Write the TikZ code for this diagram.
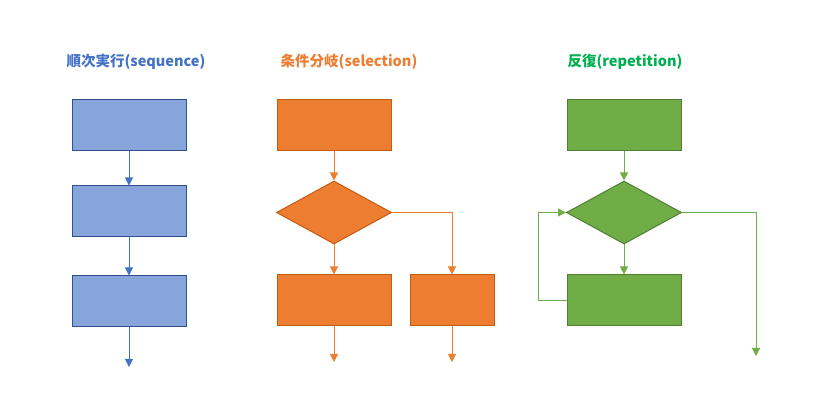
\documentclass[tikz,border=0pt]{standalone}
\usepackage{fontspec}
\newfontfamily\jpfont{Noto Sans CJK JP}
\usetikzlibrary{arrows.meta,shapes.geometric}

\definecolor{seqline}{HTML}{4472C4}
\definecolor{seqfill}{HTML}{87A5DA}
\definecolor{seqdraw}{HTML}{2F528F}
\definecolor{selline}{HTML}{ED7D31}
\definecolor{selfill}{HTML}{ED7D31}
\definecolor{seldraw}{HTML}{C55A11}
\definecolor{repline}{HTML}{70AD47}
\definecolor{repfill}{HTML}{70AD47}
\definecolor{repdraw}{HTML}{507E32}
\definecolor{reptitle}{HTML}{00B050}

\tikzset{
  title/.style={font=\jpfont\bfseries\fontsize{14.5}{16}\selectfont, inner sep=0pt},
  procbox/.style={draw, line width=1pt, minimum width=114pt, minimum height=51pt, inner sep=0pt},
  smallbox/.style={procbox, minimum width=84pt},
  decision/.style={diamond, draw, line width=1pt, minimum width=115pt, minimum height=63pt, inner sep=0pt, aspect=1.8},
  flow/.style={line width=1pt, -{Triangle[width=8pt,length=8pt]}},
}

\begin{document}
\begin{tikzpicture}[x=1pt,y=-1pt]
      \useasboundingbox (0,0) rectangle (815,406);

      % titles
      \node [title, text=seqline] (tseq) at (136, 62) {順次実行(sequence)};
      \node [title, text=selline] (tsel) at (349, 62) {条件分岐(selection)};
      \node [title, text=reptitle] (trep) at (625, 62) {反復(repetition)};

      % sequence
      \node [procbox, fill=seqfill, draw=seqdraw] (s1) at (129, 125.5) {};
      \node [procbox, fill=seqfill, draw=seqdraw] (s2) at (129, 211.5) {};
      \node [procbox, fill=seqfill, draw=seqdraw] (s3) at (129, 301.5) {};
      \coordinate (send) at (129, 367);

      \draw [flow, seqline] (s1) -- (s2);
      \draw [flow, seqline] (s2) -- (s3);
      \draw [flow, seqline] (s3) -- (send);

      % selection
      \node [procbox, fill=selfill, draw=seldraw] (o1) at (334, 125.5) {};
      \node [decision, fill=selfill, draw=seldraw] (od) at (334, 212.5) {};
      \node [procbox, fill=selfill, draw=seldraw] (o2) at (334, 300.5) {};
      \node [smallbox, fill=selfill, draw=seldraw] (o3) at (452, 300.5) {};
      \coordinate (oend1) at (334, 362);
      \coordinate (oend2) at (452, 362);

      \draw [flow, selline] (o1) -- (od);
      \draw [flow, selline] (od) -- (o2);
      \draw [flow, selline] (od.east) -| (o3.north);
      \draw [flow, selline] (o2) -- (oend1);
      \draw [flow, selline] (o3) -- (oend2);

      % repetition
      \node [procbox, fill=repfill, draw=repdraw] (r1) at (624, 125.5) {};
      \node [decision, fill=repfill, draw=repdraw] (rd) at (624, 212.5) {};
      \node [procbox, fill=repfill, draw=repdraw] (r2) at (624, 300.5) {};
      \coordinate (rloop) at (538, 300.5);
      \coordinate (rend) at (756, 356);

      \draw [flow, repline] (r1) -- (rd);
      \draw [flow, repline] (rd) -- (r2);
      \draw [flow, repline] (r2.west) -- (rloop) |- (rd.west);
      \draw [flow, repline] (rd.east) -| (rend);

    \end{tikzpicture}
\end{document}
